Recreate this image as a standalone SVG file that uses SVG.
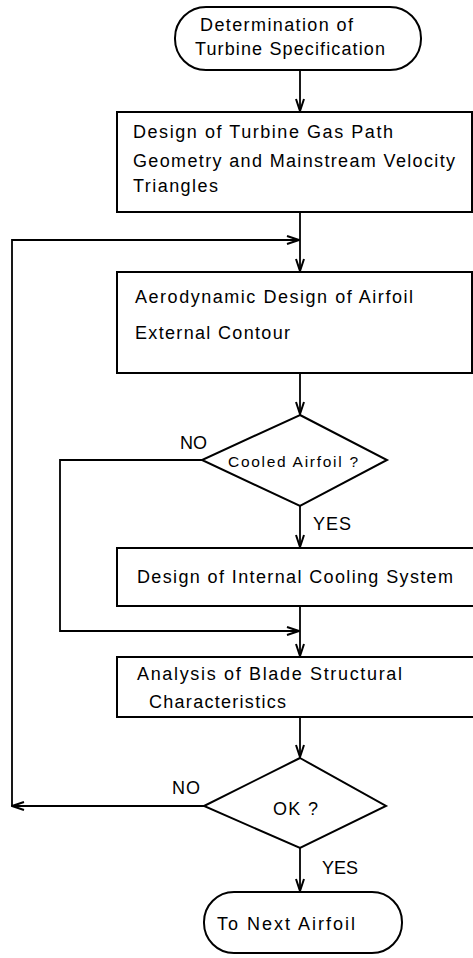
<svg xmlns="http://www.w3.org/2000/svg" width="473" height="958" viewBox="0 0 473 958">
  <style>
    .shape { fill: #fff; stroke: #000; stroke-width: 2; }
    .line { fill: none; stroke: #000; stroke-width: 1.8; }
    text { font-family: "Liberation Sans", Arial, sans-serif; font-size: 18px; fill: #000; }
    .small { font-size: 15.5px; }
  </style>
  <defs>
    <marker id="arrow" viewBox="0 0 14 10" refX="13" refY="5" markerWidth="14" markerHeight="10" markerUnits="userSpaceOnUse" orient="auto">
      <path d="M1,1 L13,5 L1,9" fill="none" stroke="#000" stroke-width="2"/>
    </marker>
  </defs>

  <rect width="473" height="958" fill="#fff"/>

  <g id="connectors">
    <line class="line" x1="300" y1="70" x2="300" y2="111" marker-end="url(#arrow)"/>
    <line class="line" x1="300" y1="212" x2="300" y2="271" marker-end="url(#arrow)"/>
    <line class="line" x1="300" y1="373" x2="300" y2="414" marker-end="url(#arrow)"/>
    <line class="line" x1="300" y1="506" x2="300" y2="547" marker-end="url(#arrow)"/>
    <line class="line" x1="300" y1="606" x2="300" y2="656" marker-end="url(#arrow)"/>
    <line class="line" x1="300" y1="717" x2="300" y2="757" marker-end="url(#arrow)"/>
    <line class="line" x1="300" y1="848" x2="300" y2="891" marker-end="url(#arrow)"/>
    <!-- bypass when the airfoil is not cooled -->
    <polyline class="line" points="202,460 60,460 60,631 299,631" marker-end="url(#arrow)"/>
    <!-- rejected design goes back to the aerodynamic step -->
    <line class="line" x1="204" y1="806" x2="12" y2="806" marker-end="url(#arrow)"/>
    <polyline class="line" points="12,806 12,240 299,240" marker-end="url(#arrow)"/>
  </g>

  <g id="start">
    <rect class="shape" x="175" y="7" width="246" height="63" rx="31" ry="31"/>
    <text x="200" y="31" textLength="153" lengthAdjust="spacing">Determination of</text>
    <text x="195" y="55" textLength="190" lengthAdjust="spacing">Turbine Specification</text>
  </g>

  <g id="gas-path">
    <rect class="shape" x="117" y="112" width="355" height="100"/>
    <text x="133" y="138" textLength="260" lengthAdjust="spacing">Design of Turbine Gas Path</text>
    <text x="133" y="167" textLength="322" lengthAdjust="spacing">Geometry and Mainstream Velocity</text>
    <text x="133" y="192" textLength="85" lengthAdjust="spacing">Triangles</text>
  </g>

  <g id="aero-design">
    <rect class="shape" x="117" y="272" width="355" height="101"/>
    <text x="135" y="303" textLength="278" lengthAdjust="spacing">Aerodynamic Design of Airfoil</text>
    <text x="135" y="339" textLength="155" lengthAdjust="spacing">External Contour</text>
  </g>

  <g id="cooled-check">
    <polygon class="shape" points="300,415 387,460 300,506 202,460"/>
    <text class="small" x="228" y="467" textLength="130" lengthAdjust="spacing">Cooled Airfoil ?</text>
    <text x="180" y="449" textLength="27" lengthAdjust="spacing">NO</text>
    <text x="313" y="530" textLength="38" lengthAdjust="spacing">YES</text>
  </g>

  <g id="cooling-system">
    <rect class="shape" x="117" y="548" width="360" height="58"/>
    <text x="137" y="583" textLength="316" lengthAdjust="spacing">Design of Internal Cooling System</text>
  </g>

  <g id="structural">
    <rect class="shape" x="117" y="657" width="360" height="60"/>
    <text x="137" y="680" textLength="265" lengthAdjust="spacing">Analysis of Blade Structural</text>
    <text x="149" y="708" textLength="137" lengthAdjust="spacing">Characteristics</text>
  </g>

  <g id="ok-check">
    <polygon class="shape" points="300,758 386,806 300,848 204,806"/>
    <text x="273" y="815" textLength="45" lengthAdjust="spacing">OK ?</text>
    <text x="172" y="794" textLength="28" lengthAdjust="spacing">NO</text>
    <text x="322" y="874" textLength="36" lengthAdjust="spacing">YES</text>
  </g>

  <g id="next-airfoil">
    <rect class="shape" x="204" y="892" width="198" height="61" rx="30" ry="30"/>
    <text x="217" y="930" textLength="138" lengthAdjust="spacing">To Next Airfoil</text>
  </g>
</svg>
